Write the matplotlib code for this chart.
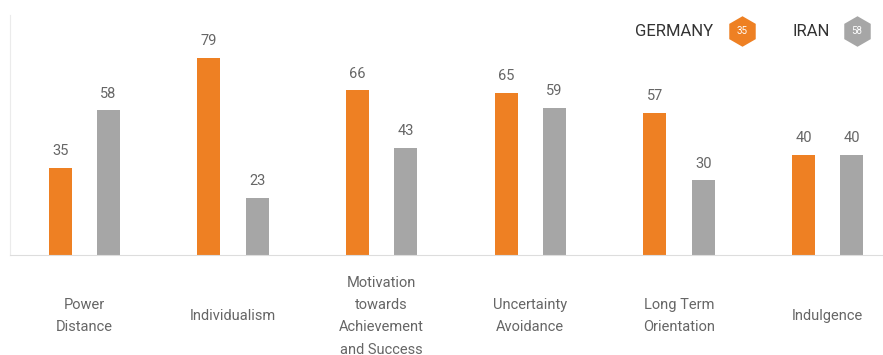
import matplotlib.pyplot as plt
import numpy as np

plt.rcParams['font.family'] = ['Roboto', 'DejaVu Sans']

# Hofstede dimensions, Germany vs Iran
categories = ['Power\nDistance', 'Individualism', 'Motivation\ntowards\nAchievement\nand Success',
              'Uncertainty\nAvoidance', 'Long Term\nOrientation', 'Indulgence']
germany = [35, 79, 66, 65, 57, 40]
iran = [58, 23, 43, 59, 30, 40]

orange = '#EE8023'
grey = '#A6A6A6'
text_col = '#666666'

fig = plt.figure(figsize=(8.83, 3.55), dpi=100)
ax = fig.add_axes([10 / 883, 100 / 355, 892 / 883, 240 / 355])

x = np.arange(len(categories))
w = 0.155
off = 0.163
b1 = ax.bar(x - off, germany, w, color=orange)
b2 = ax.bar(x + off, iran, w, color=grey)

for bars, vals in [(b1, germany), (b2, iran)]:
    for b, v in zip(bars, vals):
        ax.text(b.get_x() + b.get_width() / 2, v + 3.8, str(v), ha='center', va='bottom',
                fontsize=10.5, color=text_col)

ax.set_xlim(-0.5, 5.5)
ax.set_ylim(0, 96)
ax.set_yticks([])
ax.set_xticks(x)
ax.set_xticklabels(categories, fontsize=10.5, color=text_col, linespacing=1.75)
ax.tick_params(axis='x', length=0, pad=0)
for lbl in ax.get_xticklabels():
    lbl.set_verticalalignment('center')
    lbl.set_y(-0.255)

for s in ['top', 'right']:
    ax.spines[s].set_visible(False)
ax.spines['left'].set_color('#EBEBEB')
ax.spines['bottom'].set_color('#DDDDDD')

# legend with hexagon badges
fy = 1 - 31 / 355
fig.text(635 / 883, fy, 'GERMANY', fontsize=12, color='#333333', va='center', ha='left')
fig.text(792 / 883, fy, 'IRAN', fontsize=12, color='#333333', va='center', ha='left')
for cx, col, val in [(742, orange, germany[0]), (857, grey, iran[0])]:
    ax.plot([cx / 883], [fy], marker='h', ms=22, color=col, mec='none',
            transform=fig.transFigure, clip_on=False)
    fig.text(cx / 883, fy, str(val), fontsize=7, color='white', ha='center', va='center')

fig.savefig('out.png', dpi=100)
